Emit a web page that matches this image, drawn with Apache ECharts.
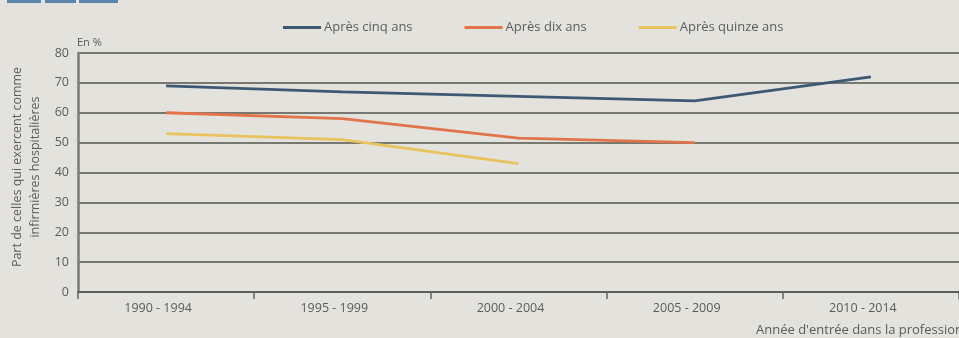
<!DOCTYPE html>
<html>
<head>
<meta charset="utf-8">
<script src="https://cdn.jsdelivr.net/npm/echarts@6/dist/echarts.min.js"></script>
<style>
  html, body { margin: 0; padding: 0; background: #e3e2dd; }
  #chart { width: 959px; height: 338px; }
</style>
</head>
<body>
<div id="chart"></div>
<script>
// Entry cohorts into the nursing profession
const categories = ['1990 - 1994', '1995 - 1999', '2000 - 2004', '2005 - 2009', '2010 - 2014'];

// Share still working as hospital nurses (%)
const apresCinqAns = [69, 67, 65.5, 64, 72];
const apresDixAns = [60, 58, 51.5, 50, null];
const apresQuinzeAns = [53, 51, 43, null, null];

const yTicks = { min: 0, max: 80, step: 10 };

const seriesNames = ['Après cinq ans', 'Après dix ans', 'Après quinze ans'];
const seriesColors = ['#3d5872', '#e2744c', '#e9c35e'];

const FONT = 'Open Sans';
const TXT = '#5b5b5b';

const chart = echarts.init(document.getElementById('chart'));

function lineSeries(name, data, color) {
  return {
    name: name,
    type: 'line',
    data: data,
    showSymbol: false,
    symbol: 'none',
    connectNulls: false,
    lineStyle: { color: color, width: 2.8 },
    itemStyle: { color: color },
    z: 5
  };
}

chart.setOption({
  backgroundColor: '#e3e2dd',
  animation: false,
  textStyle: { fontFamily: FONT },
  legend: {
    left: 278,
    top: 16,
    itemWidth: 38,
    itemHeight: 3,
    itemGap: 52,
    icon: 'rect',
    textStyle: { color: TXT, fontSize: 13, fontFamily: FONT, padding: [0, 0, 0, -2] },
    data: seriesNames
  },
  grid: { left: 78, top: 53, width: 882, height: 239, containLabel: false },
  xAxis: {
    type: 'category',
    data: categories,
    boundaryGap: true,
    axisLine: { show: true, lineStyle: { color: '#555', width: 1.5 } },
    axisTick: { show: true, interval: 0, length: 7, lineStyle: { color: '#666', width: 1.5 } },
    axisLabel: { color: TXT, fontSize: 12.5, margin: 10, fontFamily: FONT, padding: [0, 16, 0, 0] }
  },
  yAxis: {
    type: 'value',
    min: yTicks.min,
    max: yTicks.max,
    interval: yTicks.step,
    axisLine: { show: true, lineStyle: { color: '#7a7a78', width: 2.5 } },
    axisTick: { show: false },
    axisLabel: { color: TXT, fontSize: 12.5, margin: 9, fontFamily: FONT },
    splitLine: { show: true, lineStyle: { color: '#55554f', width: 1.5 } }
  },
  graphic: [
    { type: 'rect', left: 7, top: 0, shape: { width: 34, height: 3 }, style: { fill: '#5b86ad' } },
    { type: 'rect', left: 45, top: 0, shape: { width: 31, height: 3 }, style: { fill: '#5b86ad' } },
    { type: 'rect', left: 79, top: 0, shape: { width: 39, height: 3 }, style: { fill: '#5b86ad' } },
    {
      type: 'text', left: 77, top: 37,
      style: { text: 'En %', fill: TXT, fontSize: 11, fontFamily: FONT }
    },
    {
      type: 'text',
      x: 26, y: 167,
      rotation: Math.PI / 2,
      style: {
        text: 'Part de celles qui exercent comme\ninfirmières hospitalières',
        fill: TXT, fontSize: 12.5, fontFamily: FONT,
        align: 'center', verticalAlign: 'middle', lineHeight: 18
      }
    },
    {
      type: 'text',
      x: 963, y: 330,
      style: {
        text: 'Année d\'entrée dans la profession',
        fill: TXT, fontSize: 13, fontFamily: FONT,
        align: 'right', verticalAlign: 'middle'
      }
    }
  ],
  series: [
    lineSeries(seriesNames[0], apresCinqAns, seriesColors[0]),
    lineSeries(seriesNames[1], apresDixAns, seriesColors[1]),
    lineSeries(seriesNames[2], apresQuinzeAns, seriesColors[2])
  ]
});
</script>
</body>
</html>
